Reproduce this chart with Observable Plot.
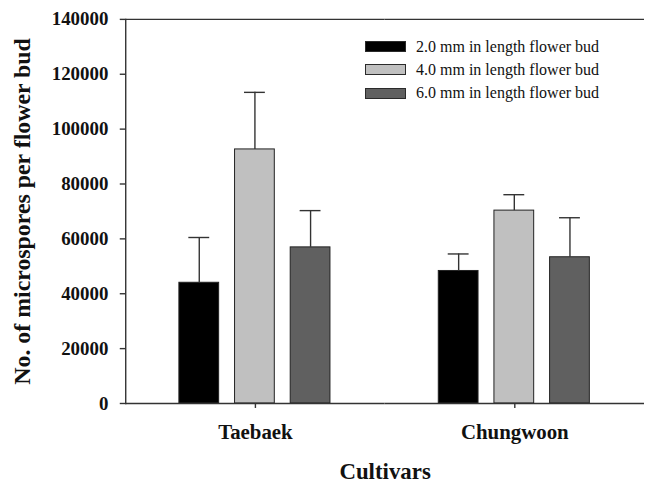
<!DOCTYPE html>
<html>
<head>
<meta charset="utf-8">
<script src="https://cdn.jsdelivr.net/npm/d3@7"></script>
<script src="https://cdn.jsdelivr.net/npm/@observablehq/plot@0.6"></script>
<style>
  html, body { margin: 0; padding: 0; background: #fff; overflow: hidden; }
  #wrap { position: relative; width: 645px; height: 487px; overflow: hidden; background: #fff; }
  #wrap svg, #wrap svg text { font-family: "Liberation Serif", "Times New Roman", serif !important; }
  #legend { position: absolute; left: 365px; top: 35px; font-family: "Liberation Serif", "Times New Roman", serif; font-size: 16px; color: #111; }
  .row { display: flex; align-items: center; height: 23.3px; }
  .sw { width: 39px; height: 9px; border: 1px solid #2a2a2a; margin-right: 10px; }
</style>
</head>
<body>
<div id="wrap"><div id="legend"></div></div>
<script>
const cultivars = ["Taebaek", "Chungwoon"];
const sizes = ["2.0 mm in length flower bud", "4.0 mm in length flower bud", "6.0 mm in length flower bud"];
const colors = ["#000000", "#c0c0c0", "#606060"];
const mean2mm = [44000, 48300];
const mean4mm = [92600, 70300];
const mean6mm = [56900, 53300];
const err2mm = [16500, 6200];
const err4mm = [20800, 5800];
const err6mm = [13400, 14400];
const yTicks = [0, 20000, 40000, 60000, 80000, 100000, 120000, 140000];

const means = [mean2mm, mean4mm, mean6mm];
const errs = [err2mm, err4mm, err6mm];
const rows = [];
cultivars.forEach((c, ci) => {
  sizes.forEach((s, si) => {
    rows.push({cultivar: c, size: s, mean: means[si][ci], top: means[si][ci] + errs[si][ci]});
  });
});

const lineColor = "#333";
const chart = Plot.plot({
  width: 649,
  height: 487,
  marginLeft: 126,
  marginRight: 1,
  marginTop: 19,
  marginBottom: 81.5,
  style: {fontFamily: "'Liberation Serif', 'Times New Roman', serif", background: "transparent", color: "#111"},
  fx: {domain: cultivars, padding: 0},
  x: {domain: sizes, paddingInner: 0.283, paddingOuter: 0.95},
  y: {domain: [0, 140000]},
  color: {domain: sizes, range: colors},
  marks: [
    Plot.barY(rows, {fx: "cultivar", x: "size", y: "mean", fill: "size", stroke: "#222", strokeWidth: 1}),
    Plot.ruleX(rows, {fx: "cultivar", x: "size", y1: "mean", y2: "top", stroke: lineColor, strokeWidth: 1.4}),
    Plot.tickY(rows, {fx: "cultivar", x: "size", y: "top", insetLeft: 9.5, insetRight: 9.5, stroke: lineColor, strokeWidth: 1.4}),
    Plot.ruleY([0, 140000], {stroke: lineColor, strokeWidth: 1.4}),
    Plot.frame({anchor: "left", facetAnchor: "left", stroke: lineColor, strokeWidth: 1.4}),
    Plot.axisY({ticks: yTicks, tickSize: 5.5, tickPadding: 12, tickFormat: d => String(d), fontSize: 19, fontWeight: "bold", stroke: lineColor, strokeWidth: 1.4, label: null}),
    Plot.axisY({ticks: [], tickSize: 0, label: "No. of microspores per flower bud", labelAnchor: "center", labelOffset: 113, labelArrow: "none", fontSize: 24, fontWeight: "bold"}),
    Plot.axisFx({anchor: "bottom", tickSize: 5, tickPadding: 16, fontSize: 21, fontWeight: "bold", stroke: lineColor, strokeWidth: 1.4, label: null}),
    Plot.axisFx({anchor: "bottom", ticks: [], tickSize: 0, label: "Cultivars", labelAnchor: "center", labelOffset: 76, labelArrow: "none", fontSize: 23, fontWeight: "bold"}),
    Plot.axisX({axis: null, ticks: [], tickSize: 0, label: null})
  ]
});
document.getElementById("wrap").prepend(chart);

const legend = d3.select("#legend");
sizes.forEach((s, i) => {
  const r = legend.append("div").attr("class", "row");
  r.append("div").attr("class", "sw").style("background", colors[i]);
  r.append("span").text(s);
});
</script>
</body>
</html>
